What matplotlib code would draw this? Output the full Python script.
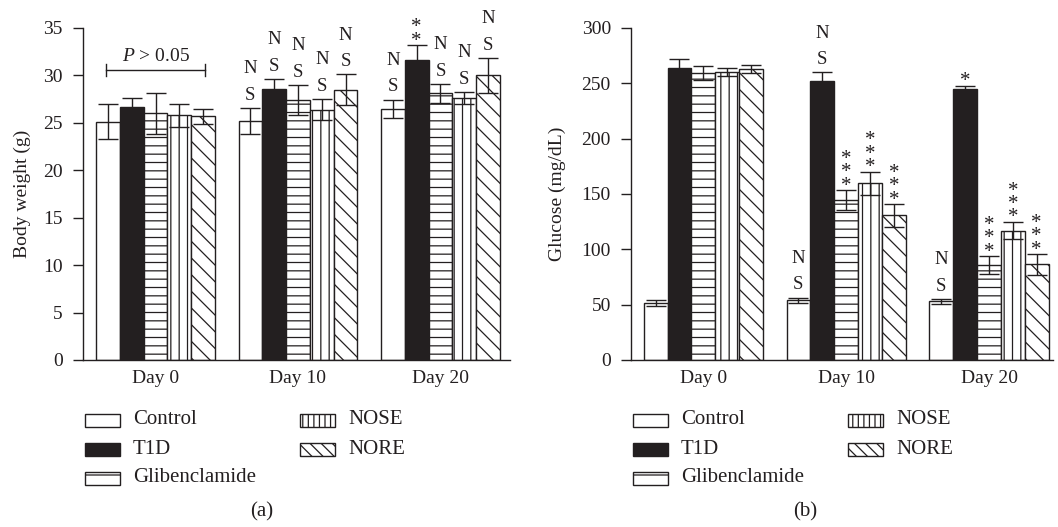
import matplotlib.pyplot as plt
import numpy as np
from matplotlib.patches import Rectangle

plt.rcParams['font.family'] = ['Liberation Serif', 'DejaVu Serif']
plt.rcParams['mathtext.fontset'] = 'custom'
plt.rcParams['mathtext.rm'] = 'Liberation Serif'
plt.rcParams['mathtext.it'] = 'Liberation Serif:italic'
plt.rcParams['hatch.linewidth'] = 0.9

INK = '#231f20'

days = ['Day 0', 'Day 10', 'Day 20']
groups = ['Control', 'T1D', 'Glibenclamide', 'NOSE', 'NORE']

# body weight (g): one row per group, one value per day
weight = [[25.1, 25.2, 26.5],
          [26.7, 28.6, 31.6],
          [26.0, 27.4, 28.1],
          [25.8, 26.4, 27.6],
          [25.7, 28.5, 30.0]]
weight_err = [[1.85, 1.4, 0.95],
              [0.9, 1.0, 1.6],
              [2.2, 1.6, 1.0],
              [1.2, 1.1, 0.66],
              [0.8, 1.6, 1.8]]
weight_sig = [['', 'NS', 'NS'],
              ['', 'NS', '**'],
              ['', 'NS', 'NS'],
              ['', 'NS', 'NS'],
              ['', 'NS', 'NS']]

# fasting glucose (mg/dL)
glucose = [[51.5, 54.1, 52.9],
           [264.1, 251.7, 245.1],
           [259.4, 144.3, 85.6],
           [260.3, 159.9, 117.0],
           [262.6, 130.8, 86.5]]
glucose_err = [[2.7, 2.3, 2.3],
               [7.5, 8.1, 2.7],
               [6.2, 9.2, 8.1],
               [3.5, 10.4, 7.8],
               [3.6, 10.2, 9.3]]
glucose_sig = [['', 'NS', 'NS'],
               ['', 'NS', '*'],
               ['', '***', '***'],
               ['', '***', '***'],
               ['', '***', '***']]

faces = ['white', INK, 'white', 'white', 'white']
hatches = ['', '', '--', '||', '\\\\']
key_hatches = ['', '', '-', '|||', '\\\\\\']

W, H = 1058, 527
fig = plt.figure(figsize=(W / 100, H / 100), dpi=100)


def px(x, y):
    return x / W, 1 - y / H


def stack(ax, x, top, text, gap, spacing, size):
    # letters / stars piled above an error cap as one text block
    ax.annotate(text, (x, top), xytext=(0, gap), textcoords='offset points',
                ha='center', va='bottom', fontsize=size, color=INK,
                linespacing=spacing, multialignment='center', annotation_clip=False)


def panel(rect, vals, errs, sigs, ymax, ystep, ylabel, xlim, labelpad):
    ax = fig.add_axes(rect)
    x = np.arange(len(days))
    w = 0.167
    for i in range(len(groups)):
        xs = x + (i - 2) * w
        ax.bar(xs, vals[i], w, color=faces[i], edgecolor=INK, hatch=hatches[i],
               linewidth=1.0, zorder=2)
        ax.errorbar(xs, vals[i], yerr=errs[i], fmt='none', ecolor=INK, elinewidth=1.0,
                    capsize=7, capthick=1.0, zorder=3)
        for xi, v, e, s in zip(xs, vals[i], errs[i], sigs[i]):
            if s == 'NS':
                stack(ax, xi, v + e, 'N\nS', 3, 1.75, 13.5)
            elif s:
                stack(ax, xi, v + e, '\n'.join(s), -4, 0.6, 15)
    ax.set_xlim(*xlim)
    ax.set_ylim(0, ymax)
    ax.set_yticks(np.arange(0, ymax + 1, ystep))
    ax.set_xticks(x, days)
    for side in ['top', 'right']:
        ax.spines[side].set_visible(False)
    for side in ['left', 'bottom']:
        ax.spines[side].set_color(INK)
        ax.spines[side].set_linewidth(1.0)
    ax.tick_params(axis='y', direction='out', length=7.5, width=1.0, pad=7,
                   labelsize=14, colors=INK)
    ax.tick_params(axis='x', length=0, pad=7, labelsize=14, colors=INK)
    ax.set_ylabel(ylabel, fontsize=14, color=INK, labelpad=labelpad)
    return ax


def key(left):
    # two-column key under each panel
    spots = [(0, 0), (0, 1), (0, 2), (1, 0), (1, 1)]
    rows = [420, 449, 478]
    for i, (c, r) in enumerate(spots):
        x0 = left + 2 + c * 215
        fx, fy = px(x0, rows[r] + 6.5)
        fig.add_artist(Rectangle((fx, fy), 35 / W, 13 / H, transform=fig.transFigure,
                                 facecolor=faces[i], edgecolor=INK, hatch=key_hatches[i],
                                 linewidth=1.0))
        tx, ty = px(x0 + 48, rows[r])
        fig.text(tx, ty, groups[i], va='center', ha='left', fontsize=15, color=INK)


ax1 = panel([83 / W, 167 / H, 427 / W, 332 / H], weight, weight_err, weight_sig,
            35, 5, 'Body weight (g)', (-0.509, 2.488), 9)
ax1.plot([-0.35, 0.35], [30.57, 30.57], color=INK, lw=1.0)
for xe in [-0.35, 0.35]:
    ax1.plot([xe, xe], [29.9, 31.25], color=INK, lw=1.0)
ax1.text(0, 31.5, '$P$ > 0.05', ha='center', va='baseline', fontsize=14, color=INK)

ax2 = panel([631 / W, 167 / H, 422 / W, 332 / H], glucose, glucose_err, glucose_sig,
            300, 50, 'Glucose (mg/dL)', (-0.506, 2.448), 11)

key(83)
key(631)

fig.text(*px(262, 512), '(a)', ha='center', va='center', fontsize=15, color=INK)
fig.text(*px(805, 512), '(b)', ha='center', va='center', fontsize=15, color=INK)

fig.savefig('out.png', dpi=100)
